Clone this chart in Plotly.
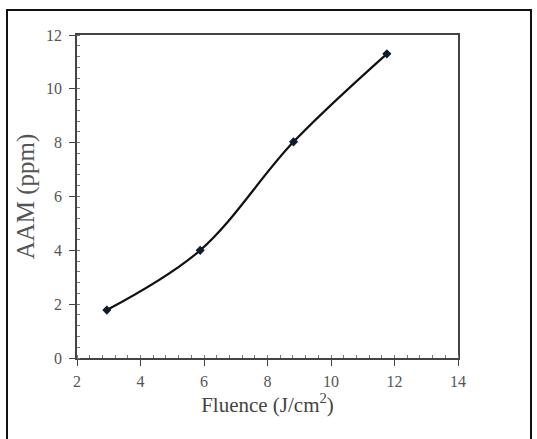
import plotly.graph_objects as go

# Measured AAM concentration vs. laser fluence
fluence = [2.94, 5.88, 8.82, 11.76]
aam_ppm = [1.78, 4.0, 8.03, 11.3]

x_ticks = [2, 4, 6, 8, 10, 12, 14]
y_ticks = [0, 2, 4, 6, 8, 10, 12]

W, H = 537, 439
ML, MR, MT, MB = 77, 79, 35, 81
pw = W - ML - MR
ph = H - MT - MB

SERIF = "Liberation Serif, Times New Roman, serif"

fig = go.Figure()
fig.add_trace(go.Scatter(
    x=fluence, y=aam_ppm,
    mode="lines+markers",
    line=dict(color="#111111", width=2.2, shape="spline", smoothing=1.0),
    marker=dict(symbol="diamond", size=7, color="#0d1b2e"),
    showlegend=False,
))

axis_font = dict(family=SERIF, size=16, color="#555555")

fig.update_xaxes(
    range=[2, 14], tickvals=x_ticks, ticktext=[str(v) for v in x_ticks],
    showgrid=False, zeroline=False,
    showline=True, linecolor="#444444", linewidth=1.5, mirror=True,
    ticks="outside", ticklen=6, tickcolor="#444444", tickwidth=1.2,
    minor=dict(dtick=0.4, ticks="inside", ticklen=3, tickcolor="#777777", tickwidth=1),
    tickfont=axis_font, ticklabelstandoff=2,
    title=dict(text="Fluence (J/cm<sup>2</sup>)", standoff=8,
               font=dict(family=SERIF, size=21, color="#444444")),
)
fig.update_yaxes(
    range=[0, 12], tickvals=y_ticks, ticktext=[str(v) for v in y_ticks],
    showgrid=False, zeroline=False,
    showline=True, linecolor="#444444", linewidth=1.5, mirror=True,
    ticks="outside", ticklen=6, tickcolor="#444444", tickwidth=1.2,
    minor=dict(dtick=0.4, ticks="inside", ticklen=3, tickcolor="#777777", tickwidth=1),
    tickfont=axis_font, ticklabelstandoff=4,
    title=dict(text="AAM (ppm)", standoff=4,
               font=dict(family=SERIF, size=25, color="#555555")),
)

# Outer frame around the whole figure
fig.add_shape(
    type="rect", xref="paper", yref="paper",
    x0=(7 - ML) / pw, x1=(531 - ML) / pw,
    y0=(H - MB - 450) / ph, y1=(H - MB - 10) / ph,
    line=dict(color="#111111", width=2), fillcolor="rgba(0,0,0,0)", layer="below",
)

fig.update_layout(
    width=W, height=H,
    margin=dict(l=ML, r=MR, t=MT, b=MB),
    paper_bgcolor="white", plot_bgcolor="white",
)

fig.write_html("out.html")
